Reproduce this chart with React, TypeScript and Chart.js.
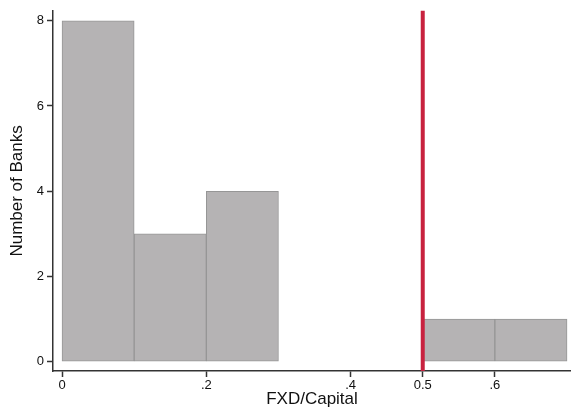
import React, { useEffect, useRef } from "react";
import { Chart, registerables } from "chart.js";

Chart.register(...registerables);

const binCenters = [0.05, 0.15, 0.25, 0.55, 0.65];
const bankCounts = [8, 3, 4, 1, 1];
const xTickValues = [0, 0.2, 0.4, 0.5, 0.6];
const xTickLabels = ["0", ".2", ".4", "0.5", ".6"];
const yTickValues = [0, 2, 4, 6, 8];
const threshold = 0.5;

const FONT = "'Liberation Sans', Arial, sans-serif";

export default function App() {
  const ref = useRef<HTMLCanvasElement | null>(null);

  useEffect(() => {
    document.body.style.margin = "0";
    const canvas = ref.current;
    if (!canvas) return;

    const thresholdLine = {
      id: "thresholdLine",
      afterDatasetsDraw(chart: any) {
        const { ctx, chartArea, scales } = chart;
        const x = scales.x.getPixelForValue(threshold);
        ctx.save();
        ctx.strokeStyle = "#c8223f";
        ctx.lineWidth = 4;
        ctx.beginPath();
        ctx.moveTo(x, chartArea.top);
        ctx.lineTo(x, chartArea.bottom);
        ctx.stroke();
        ctx.restore();
      },
    };

    const chart = new Chart(canvas, {
      type: "bar",
      data: {
        datasets: [
          {
            data: binCenters.map((x, i) => ({ x, y: bankCounts[i] })),
            backgroundColor: "#b5b3b4",
            borderColor: "#969696",
            borderWidth: 1,
            borderSkipped: false,
            barPercentage: 1,
            categoryPercentage: 1,
          },
        ],
      },
      options: {
        animation: false,
        responsive: false,
        maintainAspectRatio: false,
        layout: { padding: { top: 9, right: 0, left: 0, bottom: 0 } },
        plugins: {
          legend: { display: false },
          tooltip: { enabled: false },
        },
        scales: {
          x: {
            type: "linear",
            offset: false,
            min: -0.0125,
            max: 0.7055,
            afterBuildTicks: (scale: any) => {
              scale.ticks = xTickValues.map((v) => ({ value: v }));
            },
            afterFit: (scale: any) => {
              scale.height = 40;
            },
            ticks: {
              autoSkip: false,
              maxRotation: 0,
              padding: 1,
              color: "#111",
              font: { family: FONT, size: 13 },
              callback: (v: any) => {
                const i = xTickValues.findIndex((t) => Math.abs(t - Number(v)) < 1e-9);
                return i >= 0 ? xTickLabels[i] : "";
              },
            },
            grid: {
              offset: false,
              drawOnChartArea: false,
              drawTicks: true,
              tickLength: 6,
              tickColor: "#333",
              tickWidth: 1.5,
            },
            border: { display: true, color: "#333", width: 1.5 },
            title: {
              display: true,
              text: "FXD/Capital",
              color: "#111",
              font: { family: FONT, size: 17 },
              padding: { top: 0, bottom: 1 },
            },
          },
          y: {
            type: "linear",
            min: -0.217,
            max: 8.233,
            afterBuildTicks: (scale: any) => {
              scale.ticks = yTickValues.map((v) => ({ value: v }));
            },
            afterFit: (scale: any) => {
              scale.width = 53;
            },
            ticks: {
              padding: 3,
              color: "#111",
              font: { family: FONT, size: 13 },
            },
            grid: {
              drawOnChartArea: false,
              drawTicks: true,
              tickLength: 6,
              tickColor: "#333",
              tickWidth: 1.5,
            },
            border: { display: true, color: "#333", width: 1.5 },
            title: {
              display: true,
              text: "Number of Banks",
              color: "#111",
              font: { family: FONT, size: 17 },
              padding: { top: 7, bottom: 0 },
            },
          },
        },
      },
      plugins: [thresholdLine],
    } as any);

    return () => chart.destroy();
  }, []);

  return (
    <div style={{ width: 571, height: 411, position: "relative" }}>
      <canvas ref={ref} width={571} height={411} style={{ display: "block" }} />
    </div>
  );
}
